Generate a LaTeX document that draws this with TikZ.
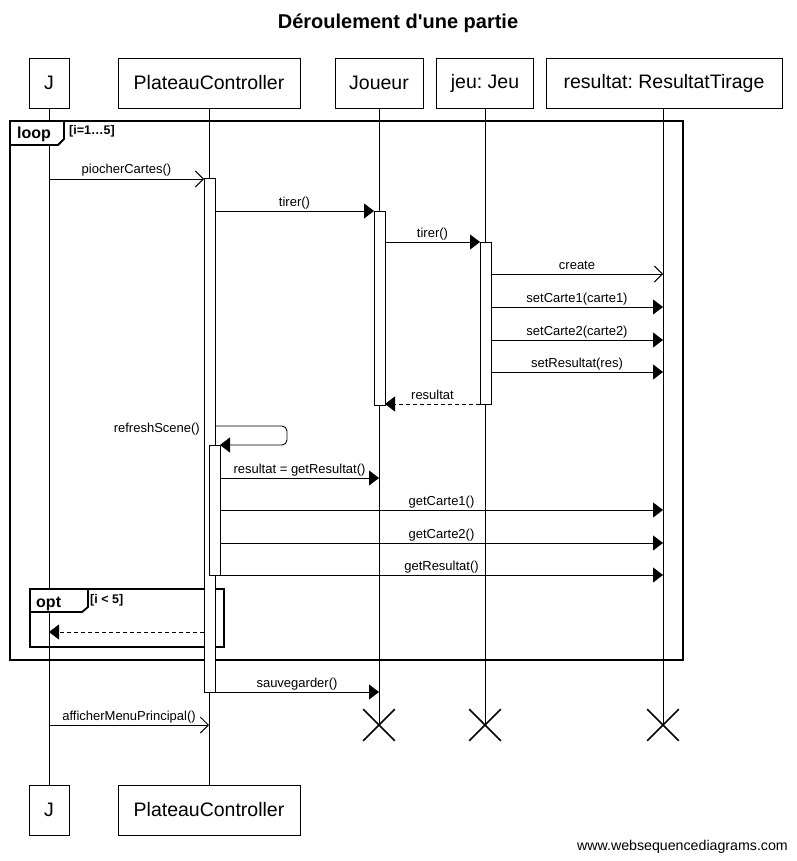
\documentclass[tikz,border=0pt]{standalone}
\usepackage{fontspec}
\setmainfont{Liberation Sans}
\frenchspacing
\usetikzlibrary{arrows.meta,shapes.misc}
\newcommand\myfs[1]{\fontsize{#1}{#1}\selectfont}
\begin{document}
\begin{tikzpicture}[x=1pt,y=-1pt,
  part/.style={draw, line width=0.9pt, fill=white, font=\myfs{19.5}, inner sep=0pt, minimum height=50pt},
  life/.style={line width=0.9pt},
  actbox/.style={draw, fill=white, line width=0.9pt, inner sep=0pt, anchor=north west, minimum width=11pt},
  msg/.style={line width=0.9pt, -{Triangle[length=10pt,width=15pt]}},
  omsg/.style={line width=0.9pt, -{Straight Barb[length=8pt,width=16pt]}},
  rmsg/.style={msg, dash pattern=on 4pt off 3pt},
  lbl/.style={font=\myfs{13}, inner sep=0pt, anchor=base, yshift=5pt},
  frm/.style={line width=1.8pt},
  tab/.style={line width=1.8pt, fill=white},
  tabtxt/.style={font=\bfseries\myfs{16}, inner sep=0pt, anchor=base west},
  guard/.style={font=\bfseries\myfs{12.5}, inner sep=0pt, anchor=base west},
  xmark/.style={draw, cross out, line width=1.6pt, minimum size=30pt, inner sep=0pt}
]
\useasboundingbox (0,0) rectangle (796,861);

% title
\node[font=\bfseries\myfs{20}, inner sep=0pt] (title) at (398,23) {Déroulement d\textquotesingle une partie};

% participants
\node[part, minimum width=40pt]  (J)  at (49,83)  {J};
\node[part, minimum width=182pt] (PC) at (209,83) {PlateauController};
\node[part, minimum width=88pt]  (JO) at (379,83) {Joueur};
\node[part, minimum width=97pt]  (JE) at (485,83) {jeu: Jeu};
\node[part, minimum width=236pt] (RT) at (664,83) {resultat: ResultatTirage};

\node[part, minimum width=40pt]  (Jb)  at (49,810)  {J};
\node[part, minimum width=182pt] (PCb) at (209,810) {PlateauController};

% lifeline ends
\coordinate (JOend) at (379,725);
\coordinate (JEend) at (485,725);
\coordinate (RTend) at (663,725);

\draw[life] (J.south) -- (Jb.north);
\draw[life] (PC.south) -- (PCb.north);
\draw[life] (JO.south) -- (JOend);
\draw[life] (JE.south) -- (JEend);
\draw[life] (RT.south -| RTend) -- (RTend);

\node[xmark] (xJO) at (JOend) {};
\node[xmark] (xJE) at (JEend) {};
\node[xmark] (xRT) at (RTend) {};

% loop frame
\draw[frm] (10,121) rectangle (683,660);
\draw[tab] (10,121) -- (64,121) -- (64,139) -- (58,145) -- (10,145) -- cycle;
\node[tabtxt] (looplbl) at (17,139) {loop};
\node[guard] (loopg) at (69,135) {[i=1…5]};

% opt frame
\draw[frm] (30,589) rectangle (224,647);
\draw[tab] (30,589) -- (88,589) -- (88,607) -- (82,612) -- (30,612) -- cycle;
\node[tabtxt] (optlbl) at (36,607) {opt};
\node[guard] (optg) at (90,603) {[i < 5]};

% activations
\node[actbox, minimum height=514pt] (aPC) at (204,178) {};
\node[actbox, minimum height=194pt] (aJO) at (374,211) {};
\node[actbox, minimum height=162pt] (aJE) at (480,242) {};
\node[actbox, minimum height=130pt] (aPC2) at (209,445) {};

% message endpoints
\coordinate (m1a) at (49,179);   \coordinate (m1b) at (204,179);
\coordinate (m2a) at (215,211);  \coordinate (m2b) at (374,211);
\coordinate (m3a) at (385,242);  \coordinate (m3b) at (480,242);
\coordinate (m4a) at (491,274);  \coordinate (m4b) at (663,274);
\coordinate (m5a) at (491,307);  \coordinate (m5b) at (663,307);
\coordinate (m6a) at (491,340);  \coordinate (m6b) at (663,340);
\coordinate (m7a) at (491,372);  \coordinate (m7b) at (663,372);
\coordinate (m8a) at (480,404);  \coordinate (m8b) at (385,404);
\coordinate (m9a) at (215,426);  \coordinate (m9c) at (287,426); \coordinate (m9d) at (287,445); \coordinate (m9b) at (220,445);
\coordinate (m10a) at (220,478); \coordinate (m10b) at (379,478);
\coordinate (m11a) at (220,510); \coordinate (m11b) at (663,510);
\coordinate (m12a) at (220,543); \coordinate (m12b) at (663,543);
\coordinate (m13a) at (220,575); \coordinate (m13b) at (663,575);
\coordinate (m14a) at (204,632); \coordinate (m14b) at (49,632);
\coordinate (m15a) at (215,692); \coordinate (m15b) at (379,692);
\coordinate (m16a) at (49,725);  \coordinate (m16b) at (209,725);

\draw[omsg] (m1a) -- node[lbl] {piocherCartes()} (m1b);
\draw[msg] (m2a) -- node[lbl] {tirer()} (m2b);
\draw[msg] (m3a) -- node[lbl] {tirer()} (m3b);
\draw[omsg] (m4a) -- node[lbl] {create} (m4b);
\draw[msg] (m5a) -- node[lbl] {setCarte1(carte1)} (m5b);
\draw[msg] (m6a) -- node[lbl] {setCarte2(carte2)} (m6b);
\draw[msg] (m7a) -- node[lbl] {setResultat(res)} (m7b);
\draw[rmsg] (m8a) -- node[lbl] {resultat} (m8b);
\draw[msg, rounded corners=5pt] (m9a) -- (m9c) -- (m9d) -- (m9b);
\node[font=\myfs{13}, inner sep=0pt, anchor=base east] (m9lbl) at (200,432) {refreshScene()};
\draw[msg] (m10a) -- node[lbl] {resultat = getResultat()} (m10b);
\draw[msg] (m11a) -- node[lbl] {getCarte1()} (m11b);
\draw[msg] (m12a) -- node[lbl] {getCarte2()} (m12b);
\draw[msg] (m13a) -- node[lbl] {getResultat()} (m13b);
\draw[rmsg] (m14a) -- (m14b);
\draw[msg] (m15a) -- node[lbl] {sauvegarder()} (m15b);
\draw[omsg] (m16a) -- node[lbl] {afficherMenuPrincipal()} (m16b);

% footer
\node[font=\myfs{14.2}, inner sep=0pt, anchor=base east] (footer) at (788,850) {www.websequencediagrams.com};
\end{tikzpicture}
\end{document}
